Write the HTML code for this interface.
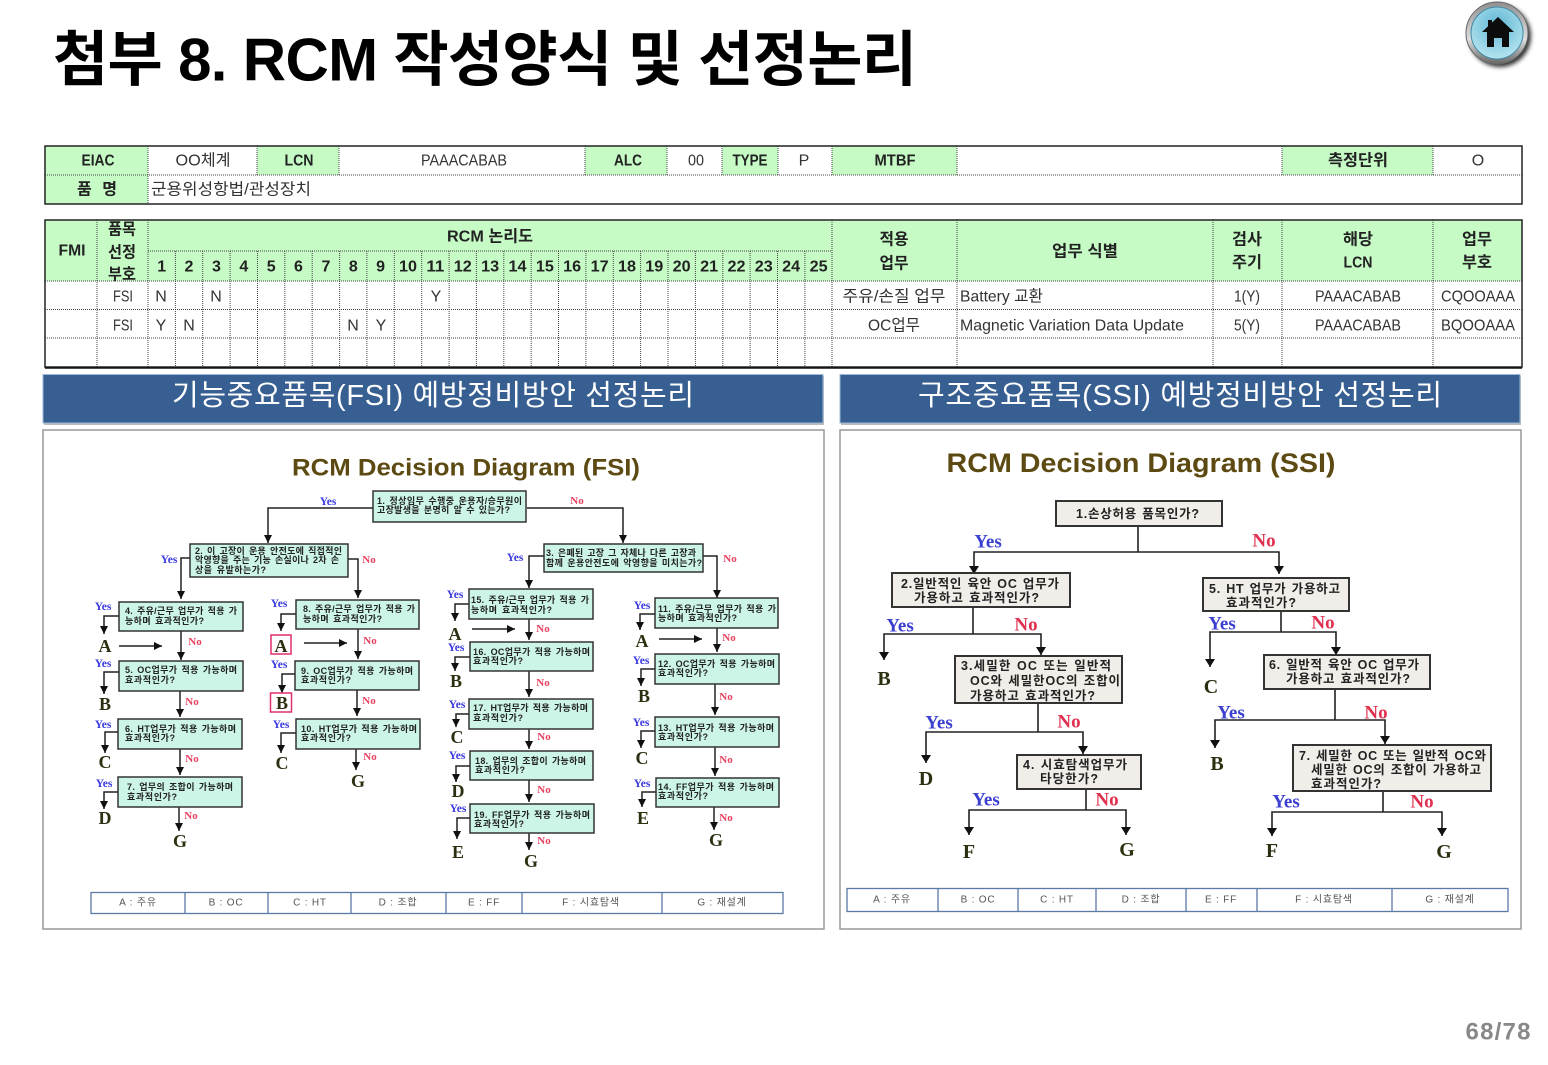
<!DOCTYPE html>
<html lang="ko"><head><meta charset="utf-8"><title>RCM</title>
<style>
html,body{margin:0;padding:0;background:#fff;width:1548px;height:1065px;overflow:hidden}
svg{display:block;font-family:"Liberation Sans","Noto Sans CJK KR",sans-serif}
text{dominant-baseline:central;transform:translateY(1px)}
.t{fill:#333;font-size:16px;text-anchor:middle}
.h{fill:#222;font-size:16px;font-weight:bold;text-anchor:middle}
.l{fill:#333;font-size:16px}
.d{stroke:#444;stroke-width:1;stroke-dasharray:1 1;fill:none}
.g{fill:#c6fbc6}
.fb{fill:#ccf5e8;stroke:#333;stroke-width:1.5}
.sb{fill:#f1ede8;stroke:#333;stroke-width:2}
.ft{font-size:9px;font-weight:bold;fill:#222;word-spacing:1.2px}
.st{font-size:12.5px;font-weight:bold;fill:#222;word-spacing:1px}
.fy{font:bold 11.500px "Liberation Serif",serif;fill:#3a3ae0;text-anchor:middle}
.fn{font:bold 11px "Liberation Serif",serif;fill:#e8405f;text-anchor:middle}
.sy{font:bold 19px "Liberation Serif",serif;fill:#3b3fd0;text-anchor:middle}
.sn{font:bold 19px "Liberation Serif",serif;fill:#e0304f;text-anchor:middle}
.fl{font:bold 18px "Liberation Serif",serif;fill:#2d3010;text-anchor:middle}
.sl{font:bold 20px "Liberation Serif",serif;fill:#2d3010;text-anchor:middle}
.fa{fill:none;stroke:#222;stroke-width:1.5;marker-end:url(#m)}
.sa{fill:none;stroke:#222;stroke-width:1.6;marker-end:url(#n)}
.sp{fill:none;stroke:#222;stroke-width:1.6}
.lg{font-size:10px;fill:#555;text-anchor:middle;letter-spacing:.8px}
</style></head><body>
<svg width="1548" height="1065" viewBox="0 0 1548 1065" xmlns="http://www.w3.org/2000/svg">
<defs>
<marker id="m" markerUnits="userSpaceOnUse" markerWidth="9" markerHeight="8" refX="8" refY="4" orient="auto"><path d="M0 0L8 4L0 8z" fill="#111"/></marker>
<marker id="n" markerUnits="userSpaceOnUse" markerWidth="9" markerHeight="10" refX="8" refY="5" orient="auto"><path d="M0 0L8 5L0 10z" fill="#111"/></marker>
<radialGradient id="hb" cx="50%" cy="35%" r="65%"><stop offset="0" stop-color="#5fb6d4"/><stop offset="1" stop-color="#b5e4ef"/></radialGradient>
<linearGradient id="hr" x1="0" y1="0" x2="0" y2="1"><stop offset="0" stop-color="#8f8f8f"/><stop offset=".6" stop-color="#dedede"/><stop offset="1" stop-color="#666"/></linearGradient>
<filter id="bl" x="-30%" y="-30%" width="160%" height="160%"><feGaussianBlur stdDeviation="2"/></filter>
</defs>

<text x="53" y="59" font-size="60" font-weight="bold" fill="#000" textLength="864" lengthAdjust="spacing">첨부 8. RCM 작성양식 및 선정논리</text>

<!-- home icon -->
<circle cx="1500" cy="36" r="31" fill="#333" filter="url(#bl)"/>
<circle cx="1497" cy="33" r="31" fill="url(#hr)" stroke="#666"/>
<circle cx="1497" cy="33" r="26" fill="url(#hb)" stroke="#3f8aa5"/>
<path d="M1482 32L1498 17L1514 32H1509V47H1502V38H1494V47H1487V32zM1488 20h4v4l-4 4z" fill="#0c0c0c"/>

<!-- table 1 -->
<rect x="45" y="146" width="103" height="58" class="g"/>
<rect x="257" y="146" width="82" height="29" class="g"/>
<rect x="585" y="146" width="82" height="29" class="g"/>
<rect x="722" y="146" width="56" height="29" class="g"/>
<rect x="832" y="146" width="125" height="29" class="g"/>
<rect x="1282" y="146" width="151" height="29" class="g"/>
<path class="d" d="M45 175H1522M148 146V204M257 146V175M339 146V175M585 146V175M667 146V175M722 146V175M778 146V175M832 146V175M957 146V175M1282 146V175M1433 146V175"/>
<rect x="45" y="146" width="1477" height="58" fill="none" stroke="#222" stroke-width="1.5"/>
<text class="h" x="98" y="160" textLength="33" lengthAdjust="spacingAndGlyphs">EIAC</text>
<text class="t" x="203" y="160" textLength="55" lengthAdjust="spacingAndGlyphs">OO체계</text>
<text class="h" x="299" y="160" textLength="29" lengthAdjust="spacingAndGlyphs">LCN</text>
<text class="t" x="464" y="160" textLength="86" lengthAdjust="spacingAndGlyphs">PAAACABAB</text>
<text class="h" x="628" y="160" textLength="28" lengthAdjust="spacingAndGlyphs">ALC</text>
<text class="t" x="696" y="160" textLength="16" lengthAdjust="spacingAndGlyphs">00</text>
<text class="h" x="750" y="160" textLength="35" lengthAdjust="spacingAndGlyphs">TYPE</text>
<text class="t" x="804" y="160">P</text>
<text class="h" x="895" y="160" textLength="41" lengthAdjust="spacingAndGlyphs">MTBF</text>
<text class="h" x="1358" y="160" textLength="60" lengthAdjust="spacingAndGlyphs">측정단위</text>
<text class="t" x="1478" y="160">O</text>
<text class="h" x="97" y="189" textLength="40" lengthAdjust="spacing">품 명</text>
<text class="l" x="151" y="189" textLength="160" lengthAdjust="spacingAndGlyphs">군용위성항법/관성장치</text>

<!-- table 2 -->
<rect x="45" y="220" width="1477" height="61" class="g"/>
<path class="d" d="M148 251H832M45 281H1522M45 309.500H1522M45 338H1522M97 220V367M148 220V367M832 220V367M957 220V367M1213 220V367M1282 220V367M1433 220V367"/>
<path class="d" d="M175.400 251V367M202.700 251V367M230.100 251V367M257.500 251V367M284.800 251V367M312.200 251V367M339.600 251V367M366.900 251V367M394.300 251V367M421.700 251V367M449.100 251V367M476.400 251V367M503.800 251V367M531.200 251V367M558.500 251V367M585.900 251V367M613.300 251V367M640.600 251V367M668 251V367M695.400 251V367M722.800 251V367M750.100 251V367M777.500 251V367M804.900 251V367"/>
<rect x="45" y="220" width="1477" height="147" fill="none" stroke="#222" stroke-width="1.5"/>
<line x1="45" y1="368" x2="1522" y2="368" stroke="#111" stroke-width="1.5"/>
<text class="h" x="72" y="250" textLength="27" lengthAdjust="spacingAndGlyphs">FMI</text>
<text class="h" x="122" y="229" textLength="28" lengthAdjust="spacingAndGlyphs">품목</text>
<text class="h" x="122" y="252" textLength="28" lengthAdjust="spacingAndGlyphs">선정</text>
<text class="h" x="122" y="274" textLength="28" lengthAdjust="spacingAndGlyphs">부호</text>
<text class="h" x="490" y="236" textLength="86" lengthAdjust="spacingAndGlyphs">RCM 논리도</text>
<g class="nums">
<text class="h" x="161.700" y="266">1</text><text class="h" x="189" y="266">2</text><text class="h" x="216.400" y="266">3</text><text class="h" x="243.800" y="266">4</text><text class="h" x="271.200" y="266">5</text><text class="h" x="298.500" y="266">6</text><text class="h" x="325.900" y="266">7</text><text class="h" x="353.300" y="266">8</text><text class="h" x="380.600" y="266">9</text>
<text class="h" x="408" y="266" textLength="18" lengthAdjust="spacingAndGlyphs">10</text><text class="h" x="435.400" y="266" textLength="18" lengthAdjust="spacingAndGlyphs">11</text><text class="h" x="462.800" y="266" textLength="18" lengthAdjust="spacingAndGlyphs">12</text><text class="h" x="490.100" y="266" textLength="18" lengthAdjust="spacingAndGlyphs">13</text><text class="h" x="517.500" y="266" textLength="18" lengthAdjust="spacingAndGlyphs">14</text><text class="h" x="544.900" y="266" textLength="18" lengthAdjust="spacingAndGlyphs">15</text><text class="h" x="572.200" y="266" textLength="18" lengthAdjust="spacingAndGlyphs">16</text><text class="h" x="599.600" y="266" textLength="18" lengthAdjust="spacingAndGlyphs">17</text><text class="h" x="627" y="266" textLength="18" lengthAdjust="spacingAndGlyphs">18</text><text class="h" x="654.300" y="266" textLength="18" lengthAdjust="spacingAndGlyphs">19</text><text class="h" x="681.700" y="266" textLength="18" lengthAdjust="spacingAndGlyphs">20</text><text class="h" x="709.100" y="266" textLength="18" lengthAdjust="spacingAndGlyphs">21</text><text class="h" x="736.500" y="266" textLength="18" lengthAdjust="spacingAndGlyphs">22</text><text class="h" x="763.800" y="266" textLength="18" lengthAdjust="spacingAndGlyphs">23</text><text class="h" x="791.200" y="266" textLength="18" lengthAdjust="spacingAndGlyphs">24</text><text class="h" x="818.600" y="266" textLength="18" lengthAdjust="spacingAndGlyphs">25</text>
</g>
<text class="h" x="894" y="239" textLength="29" lengthAdjust="spacingAndGlyphs">적용</text>
<text class="h" x="894" y="263" textLength="29" lengthAdjust="spacingAndGlyphs">업무</text>
<text class="h" x="1085" y="251" textLength="66" lengthAdjust="spacingAndGlyphs">업무 식별</text>
<text class="h" x="1247" y="239" textLength="30" lengthAdjust="spacingAndGlyphs">검사</text>
<text class="h" x="1247" y="262" textLength="30" lengthAdjust="spacingAndGlyphs">주기</text>
<text class="h" x="1358" y="239" textLength="30" lengthAdjust="spacingAndGlyphs">해당</text>
<text class="h" x="1358" y="262" textLength="29" lengthAdjust="spacingAndGlyphs">LCN</text>
<text class="h" x="1477" y="239" textLength="30" lengthAdjust="spacingAndGlyphs">업무</text>
<text class="h" x="1477" y="262" textLength="30" lengthAdjust="spacingAndGlyphs">부호</text>
<text class="t" x="123" y="296" textLength="20" lengthAdjust="spacingAndGlyphs">FSI</text>
<text class="t" x="161" y="296">N</text><text class="t" x="216" y="296">N</text><text class="t" x="436" y="296">Y</text>
<text class="t" x="894" y="296" textLength="103" lengthAdjust="spacingAndGlyphs">주유/손질 업무</text>
<text class="l" x="960" y="296" textLength="83" lengthAdjust="spacingAndGlyphs">Battery 교환</text>
<text class="t" x="1247" y="296" textLength="26" lengthAdjust="spacingAndGlyphs">1(Y)</text>
<text class="t" x="1358" y="296" textLength="86" lengthAdjust="spacingAndGlyphs">PAAACABAB</text>
<text class="t" x="1478" y="296" textLength="74" lengthAdjust="spacingAndGlyphs">CQOOAAA</text>
<text class="t" x="123" y="325" textLength="20" lengthAdjust="spacingAndGlyphs">FSI</text>
<text class="t" x="161" y="325">Y</text><text class="t" x="189" y="325">N</text><text class="t" x="353" y="325">N</text><text class="t" x="381" y="325">Y</text>
<text class="t" x="894" y="325" textLength="52" lengthAdjust="spacingAndGlyphs">OC업무</text>
<text class="l" x="960" y="325" textLength="224" lengthAdjust="spacingAndGlyphs">Magnetic Variation Data Update</text>
<text class="t" x="1247" y="325" textLength="26" lengthAdjust="spacingAndGlyphs">5(Y)</text>
<text class="t" x="1358" y="325" textLength="86" lengthAdjust="spacingAndGlyphs">PAAACABAB</text>
<text class="t" x="1478" y="325" textLength="74" lengthAdjust="spacingAndGlyphs">BQOOAAA</text>

<!-- title bars -->
<rect x="44" y="376" width="780" height="49" fill="#bbb"/>
<rect x="43" y="374.500" width="780" height="48.500" fill="#375f91" stroke="#9db8d6"/>
<rect x="841" y="376" width="680" height="49" fill="#bbb"/>
<rect x="840" y="374.500" width="680" height="48.500" fill="#375f91" stroke="#9db8d6"/>
<text x="433" y="395" font-size="29" fill="#fff" text-anchor="middle" textLength="522" lengthAdjust="spacing">기능중요품목(FSI) 예방정비방안 선정논리</text>
<text x="1180" y="395" font-size="29" fill="#fff" text-anchor="middle" textLength="524" lengthAdjust="spacing">구조중요품목(SSI) 예방정비방안 선정논리</text>

<!-- panels -->
<rect x="43" y="430" width="781" height="499" fill="#fff" stroke="#999" stroke-width="1.500"/>
<rect x="840" y="430" width="681" height="499" fill="#fff" stroke="#999" stroke-width="1.500"/>

<text x="466" y="467" font-size="24" font-weight="bold" fill="#5c4a12" text-anchor="middle" textLength="348" lengthAdjust="spacingAndGlyphs">RCM Decision Diagram (FSI)</text>
<text x="1141" y="462" font-size="27" font-weight="bold" fill="#5c4a12" text-anchor="middle" textLength="389" lengthAdjust="spacingAndGlyphs">RCM Decision Diagram (SSI)</text>

<!-- FSI connectors -->
<polyline class="fa" points="373,508 268,508 268,543"/><polyline class="fa" points="527,508 623,508 623,543"/>
<polyline class="fa" points="190,558 181,558 181,599"/><polyline class="fa" points="348,559 358,559 358,598"/>
<polyline class="fa" points="544,556 529,556 529,588"/><polyline class="fa" points="703,556 717,556 717,598"/>
<polyline class="fa" points="119,616 104,616 104,634"/><polyline class="fa" points="181,631 181,660"/><polyline class="fa" points="119,646 162,646"/>
<polyline class="fa" points="119,672 104,672 104,694"/><polyline class="fa" points="180,691 180,717"/>
<polyline class="fa" points="118,732 105,732 105,753"/><polyline class="fa" points="180,749 180,775"/>
<polyline class="fa" points="118,792 104,792 104,809"/><polyline class="fa" points="179,807 179,831"/>
<polyline class="fa" points="296,614 281,614 281,631"/><polyline class="fa" points="358,629 358,659"/><polyline class="fa" points="304,643 347,643"/>
<polyline class="fa" points="295,674 282,674 282,693"/><polyline class="fa" points="357,690 357,716"/>
<polyline class="fa" points="296,733 281,733 281,753"/><polyline class="fa" points="356,749 356,770"/>
<polyline class="fa" points="469,604 455,604 455,621"/><polyline class="fa" points="529,619 529,640"/><polyline class="fa" points="472,629 515,629"/>
<polyline class="fa" points="470,657 455,657 455,671"/><polyline class="fa" points="529,671 529,697"/>
<polyline class="fa" points="469,714 456,714 456,727"/><polyline class="fa" points="529,729 529,749"/>
<polyline class="fa" points="470,766 456,766 456,782"/><polyline class="fa" points="529,780 529,802"/>
<polyline class="fa" points="470,818 457,818 457,839"/><polyline class="fa" points="529,833 529,850"/>
<polyline class="fa" points="655,614 640,614 640,630"/><polyline class="fa" points="717,628 717,652"/><polyline class="fa" points="659,639 702,639"/>
<polyline class="fa" points="655,669 641,669 641,686"/><polyline class="fa" points="715,684 715,715"/>
<polyline class="fa" points="655,731 641,731 641,748"/><polyline class="fa" points="715,747 715,776"/>
<polyline class="fa" points="656,792 642,792 642,807"/><polyline class="fa" points="714,807 714,830"/>

<!-- FSI boxes -->
<rect class="fb" x="373" y="491" width="153" height="31"/><rect class="fb" x="190" y="544" width="158" height="33"/><rect class="fb" x="544" y="544" width="159" height="28"/>
<rect class="fb" x="119" y="602" width="124" height="29"/><rect class="fb" x="119" y="661" width="124" height="30"/><rect class="fb" x="118" y="719" width="124" height="30"/><rect class="fb" x="118" y="777" width="124" height="30"/>
<rect class="fb" x="296" y="600" width="123" height="29"/><rect class="fb" x="295" y="661" width="124" height="29"/><rect class="fb" x="296" y="719" width="124" height="30"/>
<rect class="fb" x="469" y="589" width="124" height="30"/><rect class="fb" x="470" y="642" width="123" height="29"/><rect class="fb" x="469" y="699" width="124" height="30"/><rect class="fb" x="470" y="751" width="123" height="29"/><rect class="fb" x="470" y="804" width="124" height="29"/>
<rect class="fb" x="655" y="598" width="123" height="30"/><rect class="fb" x="655" y="654" width="124" height="30"/><rect class="fb" x="655" y="717" width="124" height="30"/><rect class="fb" x="656" y="778" width="123" height="29"/>
<rect x="271" y="635" width="20" height="19" fill="#fff" stroke="#e0306a" stroke-width="1.500"/><rect x="270.500" y="693" width="21" height="19" fill="#fff" stroke="#e0306a" stroke-width="1.500"/>

<!-- FSI box text -->
<text class="ft" x="377" y="500" textLength="145">1. 정상임무 수행중 운용자/승무원이</text><text class="ft" x="377" y="509" textLength="133">고장발생을 분명히 알 수 있는가?</text>
<text class="ft" x="195" y="550" textLength="147">2. 이 고장이 운용 안전도에 직접적인</text><text class="ft" x="195" y="559" textLength="144">악영향을 주는 기능 손실이나 2차 손</text><text class="ft" x="195" y="569" textLength="71">상을 유발하는가?</text>
<text class="ft" x="546" y="552" textLength="150">3. 은폐된 고장 그 자체나 다른 고장과</text><text class="ft" x="546" y="562" textLength="156">함께 운용안전도에 악영향을 미치는가?</text>
<text class="ft" x="125" y="610" textLength="112">4. 주유/근무 업무가 적용 가</text><text class="ft" x="125" y="620" textLength="79">능하며 효과적인가?</text>
<text class="ft" x="125" y="669" textLength="112">5. OC업무가 적용 가능하며</text><text class="ft" x="125" y="679" textLength="50">효과적인가?</text>
<text class="ft" x="125" y="728" textLength="111">6. HT업무가 적용 가능하며</text><text class="ft" x="125" y="737" textLength="50">효과적인가?</text>
<text class="ft" x="127" y="786" textLength="106">7. 업무의 조합이 가능하며</text><text class="ft" x="127" y="796" textLength="50">효과적인가?</text>
<text class="ft" x="303" y="608" textLength="112">8. 주유/근무 업무가 적용 가</text><text class="ft" x="303" y="618" textLength="79">능하며 효과적인가?</text>
<text class="ft" x="301" y="670" textLength="112">9. OC업무가 적용 가능하며</text><text class="ft" x="301" y="679" textLength="50">효과적인가?</text>
<text class="ft" x="301" y="728" textLength="116">10. HT업무가 적용 가능하며</text><text class="ft" x="301" y="737" textLength="50">효과적인가?</text>
<text class="ft" x="471" y="599" textLength="118">15. 주유/근무 업무가 적용 가</text><text class="ft" x="471" y="609" textLength="81">능하며 효과적인가?</text>
<text class="ft" x="473" y="651" textLength="117">16. OC업무가 적용 가능하며</text><text class="ft" x="473" y="660" textLength="50">효과적인가?</text>
<text class="ft" x="473" y="707" textLength="115">17. HT업무가 적용 가능하며</text><text class="ft" x="473" y="717" textLength="50">효과적인가?</text>
<text class="ft" x="475" y="760" textLength="111">18. 업무의 조합이 가능하며</text><text class="ft" x="475" y="769" textLength="50">효과적인가?</text>
<text class="ft" x="474" y="814" textLength="116">19. FF업무가 적용 가능하며</text><text class="ft" x="474" y="823" textLength="50">효과적인가?</text>
<text class="ft" x="658" y="608" textLength="118">11. 주유/근무 업무가 적용 가</text><text class="ft" x="658" y="617" textLength="79">능하며 효과적인가?</text>
<text class="ft" x="658" y="663" textLength="117">12. OC업무가 적용 가능하며</text><text class="ft" x="658" y="672" textLength="50">효과적인가?</text>
<text class="ft" x="658" y="727" textLength="116">13. HT업무가 적용 가능하며</text><text class="ft" x="658" y="736" textLength="50">효과적인가?</text>
<text class="ft" x="658" y="786" textLength="116">14. FF업무가 적용 가능하며</text><text class="ft" x="658" y="795" textLength="50">효과적인가?</text>

<!-- FSI Yes/No -->
<text class="fy" x="328" y="501">Yes</text><text class="fn" x="577" y="500">No</text>
<text class="fy" x="169" y="559">Yes</text><text class="fn" x="369" y="559">No</text>
<text class="fy" x="515" y="557">Yes</text><text class="fn" x="730" y="558">No</text>
<text class="fy" x="103" y="606">Yes</text><text class="fn" x="195" y="641">No</text>
<text class="fy" x="103" y="663">Yes</text><text class="fn" x="192" y="701">No</text>
<text class="fy" x="103" y="724">Yes</text><text class="fn" x="192" y="758">No</text>
<text class="fy" x="104" y="783">Yes</text><text class="fn" x="191" y="815">No</text>
<text class="fy" x="279" y="603">Yes</text><text class="fn" x="370" y="640">No</text>
<text class="fy" x="279" y="664">Yes</text><text class="fn" x="369" y="700">No</text>
<text class="fy" x="281" y="724">Yes</text><text class="fn" x="370" y="756">No</text>
<text class="fy" x="455" y="594">Yes</text><text class="fn" x="543" y="628">No</text>
<text class="fy" x="456" y="647">Yes</text><text class="fn" x="543" y="682">No</text>
<text class="fy" x="457" y="704">Yes</text><text class="fn" x="544" y="736">No</text>
<text class="fy" x="457" y="755">Yes</text><text class="fn" x="544" y="789">No</text>
<text class="fy" x="458" y="808">Yes</text><text class="fn" x="544" y="840">No</text>
<text class="fy" x="642" y="605">Yes</text><text class="fn" x="729" y="637">No</text>
<text class="fy" x="641" y="660">Yes</text><text class="fn" x="726" y="696">No</text>
<text class="fy" x="641" y="722">Yes</text><text class="fn" x="726" y="759">No</text>
<text class="fy" x="642" y="783">Yes</text><text class="fn" x="726" y="817">No</text>

<!-- FSI letters -->
<text class="fl" x="105" y="645">A</text><text class="fl" x="105" y="703">B</text><text class="fl" x="105" y="761">C</text><text class="fl" x="105" y="817">D</text><text class="fl" x="180" y="840">G</text>
<text class="fl" x="281" y="645">A</text><text class="fl" x="282" y="702">B</text><text class="fl" x="282" y="762">C</text><text class="fl" x="358" y="780">G</text>
<text class="fl" x="455" y="633">A</text><text class="fl" x="456" y="680">B</text><text class="fl" x="457" y="736">C</text><text class="fl" x="458" y="790">D</text><text class="fl" x="458" y="851">E</text><text class="fl" x="531" y="860">G</text>
<text class="fl" x="642" y="640">A</text><text class="fl" x="644" y="695">B</text><text class="fl" x="642" y="757">C</text><text class="fl" x="643" y="817">E</text><text class="fl" x="716" y="839">G</text>

<!-- FSI legend -->
<rect x="91" y="892.500" width="692" height="21" fill="#fff" stroke="#5b7aa8" stroke-width="1.300"/>
<path d="M185 892V913M268 892V913M351 892V913M446 892V913M522 892V913M662 892V913" stroke="#5b7aa8" stroke-width="1.300"/>
<text class="lg" x="138" y="902">A : 주유</text><text class="lg" x="226" y="902">B : OC</text><text class="lg" x="310" y="902">C : HT</text><text class="lg" x="398" y="902">D : 조합</text><text class="lg" x="484" y="902">E : FF</text><text class="lg" x="591" y="902">F : 시효탐색</text><text class="lg" x="722" y="902">G : 재설계</text>

<!-- SSI connectors -->
<path class="sp" d="M1138 526V552M973 607V634M1038 703V732M1086 789V810M1281 611V632M1335 689V720M1383 791V812"/>
<polyline class="sa" points="1138,552 974,552 974,574"/><polyline class="sa" points="1138,552 1279,552 1279,574"/>
<polyline class="sa" points="973,634 884,634 884,660"/><polyline class="sa" points="973,634 1041,634 1041,655"/>
<polyline class="sa" points="1038,732 926,732 926,763"/><polyline class="sa" points="1038,732 1083,732 1083,754"/>
<polyline class="sa" points="1086,810 969,810 969,835"/><polyline class="sa" points="1086,810 1126,810 1126,835"/>
<polyline class="sa" points="1281,632 1210,632 1210,667"/><polyline class="sa" points="1281,632 1336,632 1336,655"/>
<polyline class="sa" points="1335,720 1215,720 1215,748"/><polyline class="sa" points="1335,720 1385,720 1385,744"/>
<polyline class="sa" points="1383,812 1272,812 1272,836"/><polyline class="sa" points="1383,812 1442,812 1442,836"/>

<!-- SSI boxes -->
<rect class="sb" x="1056" y="501" width="166" height="25"/>
<rect class="sb" x="892" y="573" width="178" height="34"/>
<rect class="sb" x="955" y="656" width="167" height="47"/>
<rect class="sb" x="1017" y="755" width="124" height="34"/>
<rect class="sb" x="1203" y="578" width="146" height="33"/>
<rect class="sb" x="1264" y="655" width="166" height="34"/>
<rect class="sb" x="1293" y="745" width="198" height="46"/>
<text class="st" x="1076" y="513" textLength="123">1.손상허용 품목인가?</text>
<text class="st" x="901" y="583" textLength="158">2.일반적인 육안 OC 업무가</text><text class="st" x="914" y="597" textLength="125">가용하고 효과적인가?</text>
<text class="st" x="961" y="665" textLength="150">3.세밀한 OC 또는 일반적</text><text class="st" x="970" y="680" textLength="150">OC와 세밀한OC의 조합이</text><text class="st" x="970" y="695" textLength="125">가용하고 효과적인가?</text>
<text class="st" x="1023" y="764" textLength="104">4. 시효탐색업무가</text><text class="st" x="1040" y="778" textLength="58">타당한가?</text>
<text class="st" x="1209" y="588" textLength="131">5. HT 업무가 가용하고</text><text class="st" x="1226" y="602" textLength="70">효과적인가?</text>
<text class="st" x="1269" y="664" textLength="150">6. 일반적 육안 OC 업무가</text><text class="st" x="1286" y="678" textLength="124">가용하고 효과적인가?</text>
<text class="st" x="1299" y="755" textLength="187">7. 세밀한 OC 또는 일반적 OC와</text><text class="st" x="1311" y="769" textLength="170">세밀한 OC의 조합이 가용하고</text><text class="st" x="1311" y="783" textLength="70">효과적인가?</text>

<!-- SSI Yes/No -->
<text class="sy" x="988" y="541">Yes</text><text class="sn" x="1264" y="540">No</text>
<text class="sy" x="900" y="625">Yes</text><text class="sn" x="1026" y="624">No</text>
<text class="sy" x="939" y="722">Yes</text><text class="sn" x="1069" y="721">No</text>
<text class="sy" x="986" y="799">Yes</text><text class="sn" x="1107" y="799">No</text>
<text class="sy" x="1222" y="623">Yes</text><text class="sn" x="1323" y="622">No</text>
<text class="sy" x="1231" y="712">Yes</text><text class="sn" x="1376" y="712">No</text>
<text class="sy" x="1286" y="801">Yes</text><text class="sn" x="1422" y="801">No</text>

<!-- SSI letters -->
<text class="sl" x="884" y="678">B</text><text class="sl" x="926" y="778">D</text><text class="sl" x="969" y="851">F</text><text class="sl" x="1127" y="849">G</text>
<text class="sl" x="1211" y="686">C</text><text class="sl" x="1217" y="763">B</text><text class="sl" x="1272" y="850">F</text><text class="sl" x="1444" y="851">G</text>

<!-- SSI legend -->
<rect x="847" y="888.500" width="661" height="23" fill="#fff" stroke="#5b7aa8" stroke-width="1.300"/>
<path d="M938 888V911M1018 888V911M1096 888V911M1186 888V911M1257 888V911M1392 888V911" stroke="#5b7aa8" stroke-width="1.300"/>
<text class="lg" x="892" y="899">A : 주유</text><text class="lg" x="978" y="899">B : OC</text><text class="lg" x="1057" y="899">C : HT</text><text class="lg" x="1141" y="899">D : 조합</text><text class="lg" x="1221" y="899">E : FF</text><text class="lg" x="1324" y="899">F : 시효탐색</text><text class="lg" x="1450" y="899">G : 재설계</text>

<text x="1498" y="1031" font-size="24" font-weight="bold" fill="#888" text-anchor="middle" textLength="65" lengthAdjust="spacing">68/78</text>
</svg>
</body></html>
